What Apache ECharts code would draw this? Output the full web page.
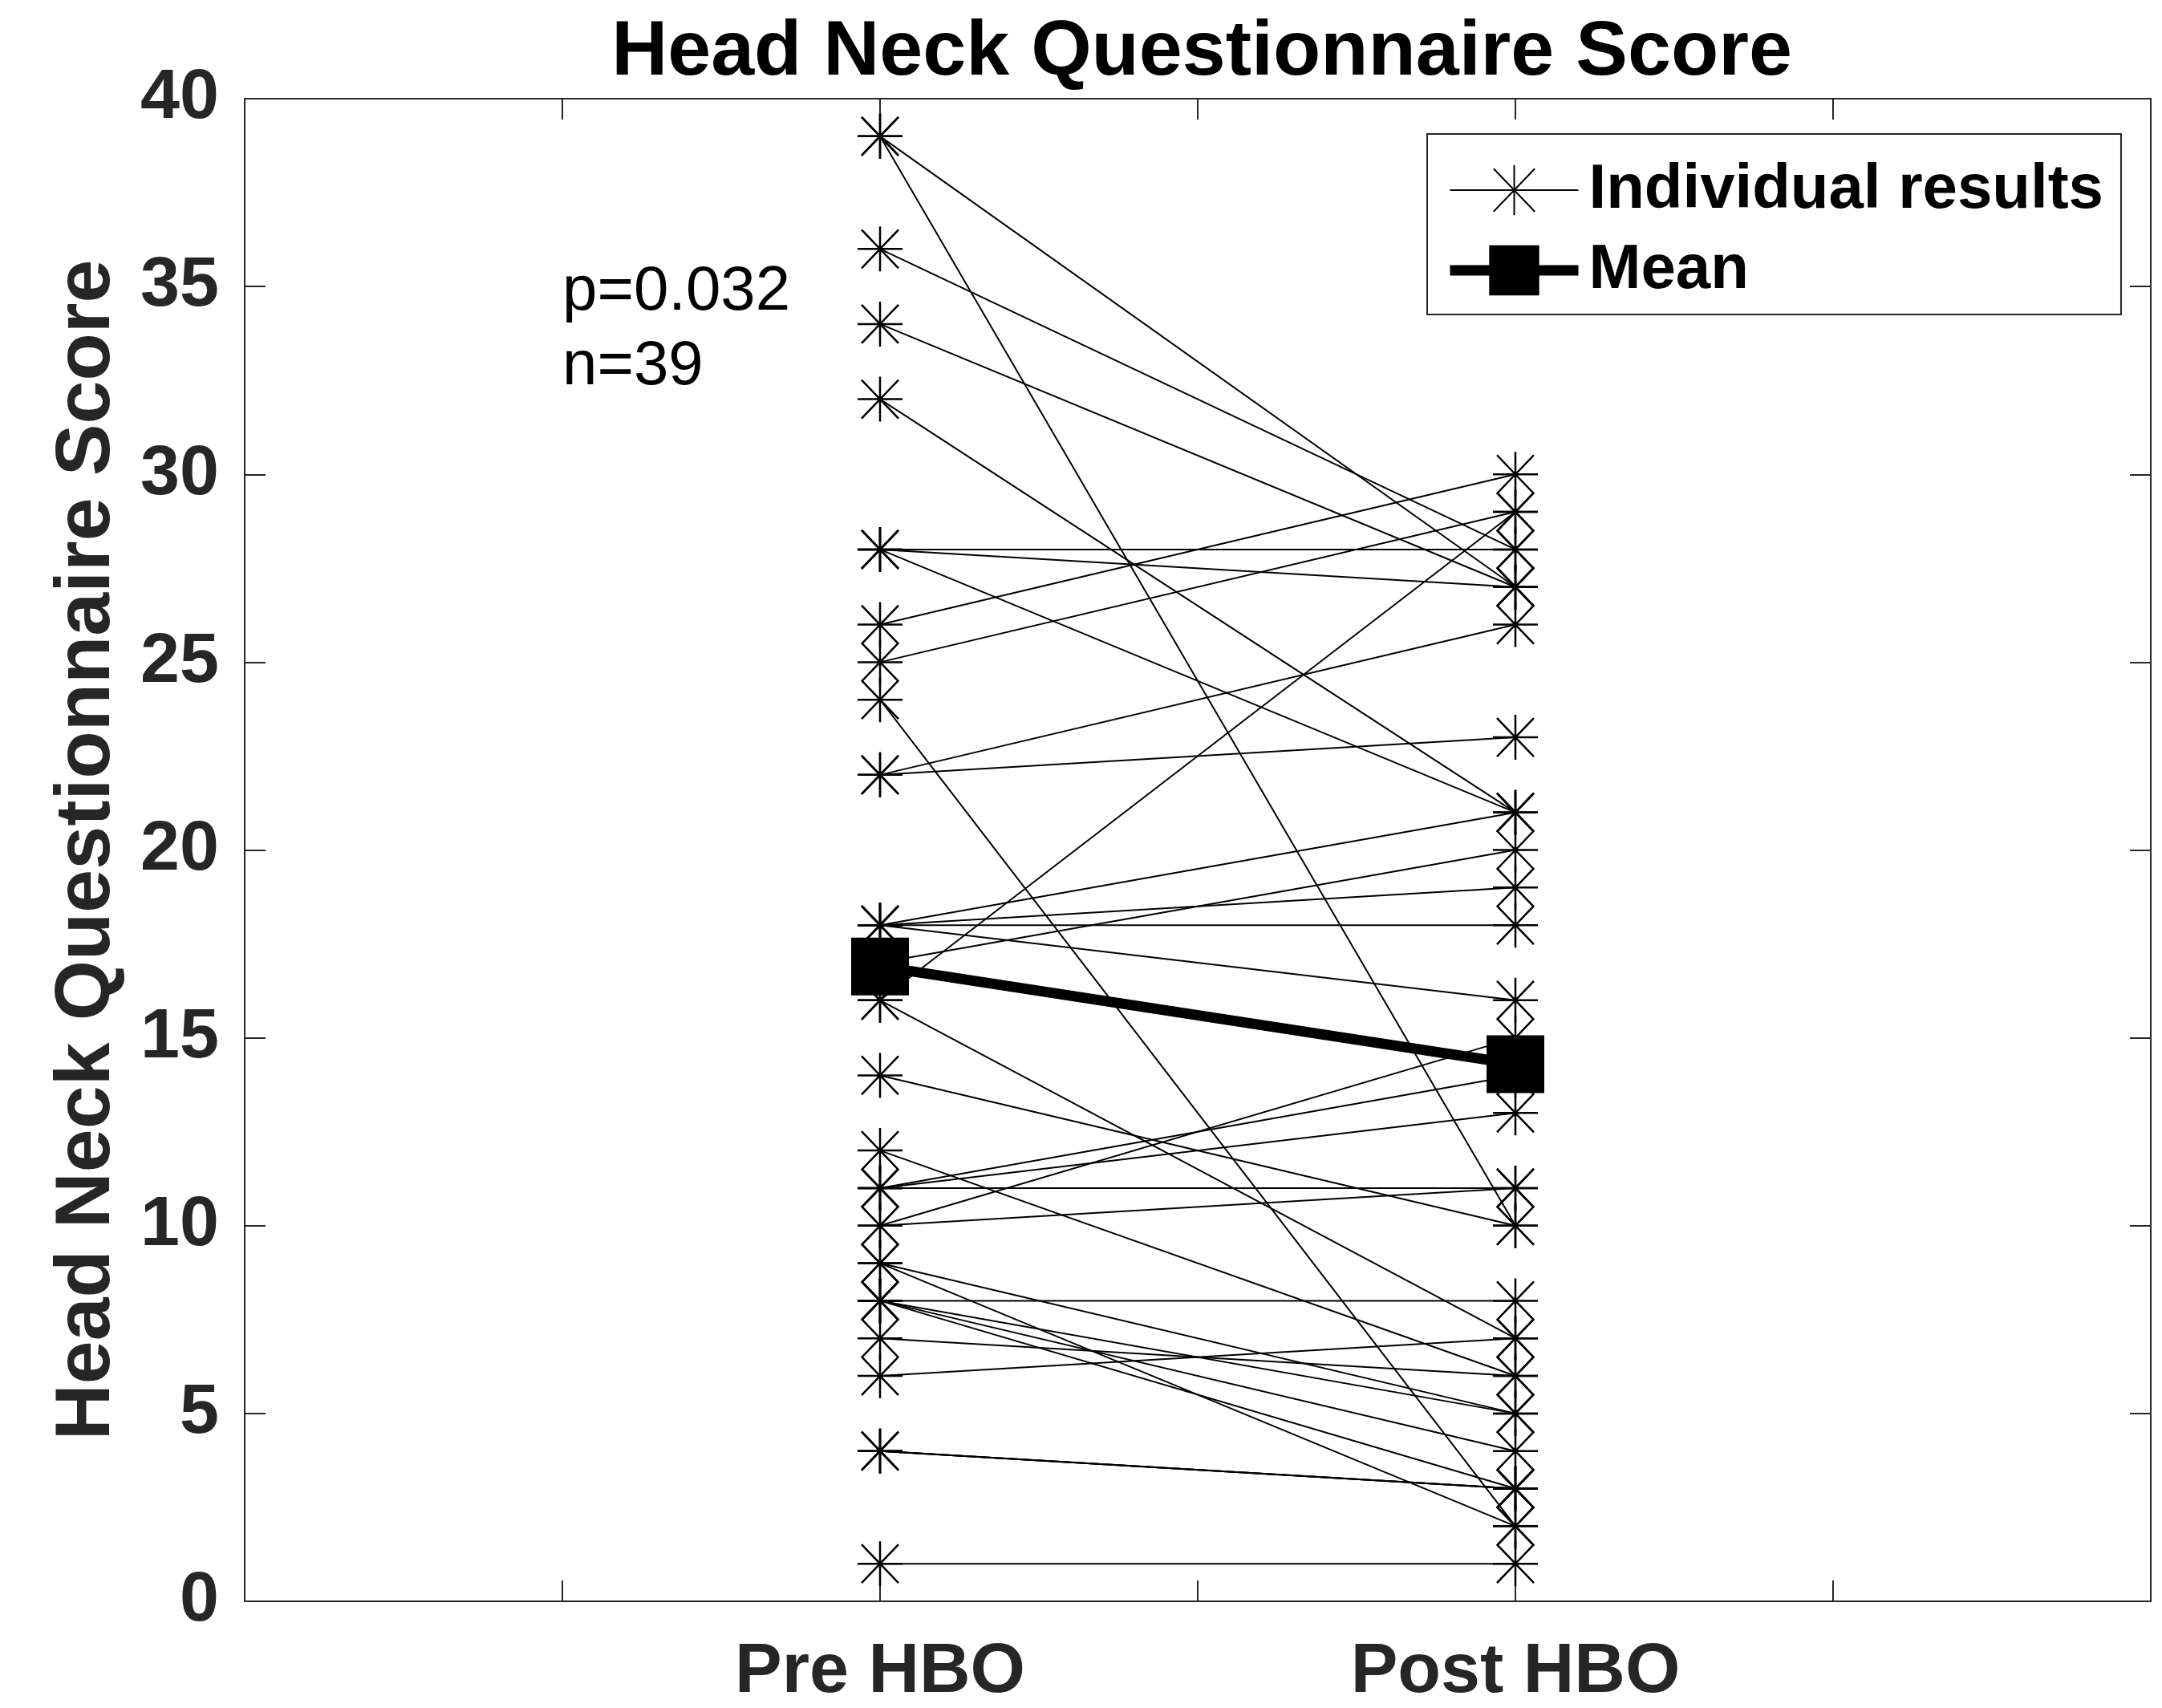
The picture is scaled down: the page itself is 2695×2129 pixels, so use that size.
<!DOCTYPE html>
<html>
<head>
<meta charset="utf-8">
<script src="https://cdn.jsdelivr.net/npm/echarts@6/dist/echarts.min.js"></script>
<style>
html,body{margin:0;padding:0;background:#fff;overflow:hidden;}
#chart{width:2695px;height:2129px;}
</style>
</head>
<body>
<div id="chart"></div>
<script>
// ---- data ----
const categories = ['Pre HBO', 'Post HBO'];
const categoryPositions = [1, 2];
const preScores  = [39,39,36,34,32,28,28,28,26,25,24,22,22,18,18,18,18,17,16,16,14,12,11,11,11,10,10,9,9,8,8,8,8,7,6,4,4,4,1];
const postScores = [10,27,28,27,21,28,27,21,30,29,2,26,23,21,19,18,16,20,29,7,10,6,14,13,11,15,11,5,2,8,5,4,3,6,7,3,3,3,1];
const meanScores = [16.9, 14.3];
const seriesNames = ['Individual results', 'Mean'];
const titleText = 'Head Neck Questionnaire Score';
const yAxisTitle = 'Head Neck Questionnaire Score';
const annotation = ['p=0.032', 'n=39'];

// ---- chart ----
const FONT = '"Liberation Sans", Arial, Helvetica, sans-serif';
const AX = '#262626';
const STAR = 'path://M0,-28L0,28M-28,0L28,0M-23,-24L23,24M-23,24L23,-24';

const chart = echarts.init(document.getElementById('chart'), null, {renderer: 'canvas'});

const series = [];
for (let i = 0; i < preScores.length; i++) {
  series.push({
    name: seriesNames[0],
    type: 'line',
    xAxisIndex: 0, yAxisIndex: 0,
    data: [[categoryPositions[0], preScores[i]], [categoryPositions[1], postScores[i]]],
    symbol: STAR,
    symbolSize: 56,
    showAllSymbol: true,
    lineStyle: {color: '#000', width: 2},
    itemStyle: {color: '#000', borderColor: '#000', borderWidth: 2.5},
    emphasis: {disabled: true},
    silent: true,
    z: 2
  });
}
series.push({
  name: seriesNames[1],
  type: 'line',
  xAxisIndex: 0, yAxisIndex: 0,
  data: categoryPositions.map((x, i) => [x, meanScores[i]]),
  symbol: 'rect',
  symbolSize: 72,
  lineStyle: {color: '#000', width: 13},
  itemStyle: {color: '#000', borderColor: '#000', borderWidth: 0},
  emphasis: {disabled: true},
  silent: true,
  z: 5
});

const labelFmt = function (v) {
  const idx = categoryPositions.indexOf(v);
  return idx >= 0 ? categories[idx] : '';
};

const option = {
  animation: false,
  backgroundColor: '#fff',
  title: {
    text: titleText,
    left: 1493,
    textAlign: 'center',
    top: 13,
    textStyle: {fontFamily: FONT, fontWeight: 'bold', fontSize: 97, color: '#000'}
  },
  grid: {left: 305, right: 14, top: 123, bottom: 125, containLabel: false},
  legend: {
    data: [
      {name: seriesNames[0]},
      {name: seriesNames[1], lineStyle: {width: 13, color: '#000'}}
    ],
    orient: 'vertical',
    left: 1779,
    top: 167,
    padding: [31, 22, 16, 22],
    itemGap: 22,
    itemWidth: 160,
    itemHeight: 78,
    selectedMode: false,
    backgroundColor: '#fff',
    borderColor: AX,
    borderWidth: 2,
    borderRadius: 0,
    textStyle: {fontFamily: FONT, fontWeight: 'bold', fontSize: 78, color: '#000', padding: [0, 0, 0, 8]}
  },
  xAxis: [{
    type: 'value', min: 0, max: 3, interval: 0.5, position: 'bottom',
    axisLine: {show: true, onZero: false, lineStyle: {color: AX, width: 2}},
    axisTick: {show: true, inside: true, length: 26, lineStyle: {color: AX, width: 2}},
    axisLabel: {formatter: labelFmt, margin: 45, fontFamily: FONT, fontWeight: 'bold', fontSize: 88, color: AX, showMinLabel: true, showMaxLabel: true},
    splitLine: {show: false}
  }, {
    type: 'value', min: 0, max: 3, interval: 0.5, position: 'top',
    axisLine: {show: true, onZero: false, lineStyle: {color: AX, width: 2}},
    axisTick: {show: true, inside: true, length: 26, lineStyle: {color: AX, width: 2}},
    axisLabel: {show: false},
    splitLine: {show: false}
  }],
  yAxis: [{
    type: 'value', min: 0, max: 40, interval: 5, position: 'left',
    name: yAxisTitle,
    nameLocation: 'middle',
    nameGap: 147,
    nameRotate: 90,
    nameTextStyle: {fontFamily: FONT, fontWeight: 'bold', fontSize: 97, color: AX},
    axisLine: {show: true, onZero: false, lineStyle: {color: AX, width: 2}},
    axisTick: {show: true, inside: true, length: 26, lineStyle: {color: AX, width: 2}},
    axisLabel: {margin: 32, fontFamily: FONT, fontWeight: 'bold', fontSize: 88, color: AX},
    splitLine: {show: false}
  }, {
    type: 'value', min: 0, max: 40, interval: 5, position: 'right',
    axisLine: {show: true, onZero: false, lineStyle: {color: AX, width: 2}},
    axisTick: {show: true, inside: true, length: 26, lineStyle: {color: AX, width: 2}},
    axisLabel: {show: false},
    splitLine: {show: false}
  }],
  graphic: [{
    type: 'text',
    left: 701,
    top: 318,
    z: 10,
    style: {
      text: annotation.join('\n'),
      font: 'normal 78px ' + FONT,
      lineHeight: 93,
      fill: '#000'
    }
  }],
  series: series
};
chart.setOption(option);
</script>
</body>
</html>
